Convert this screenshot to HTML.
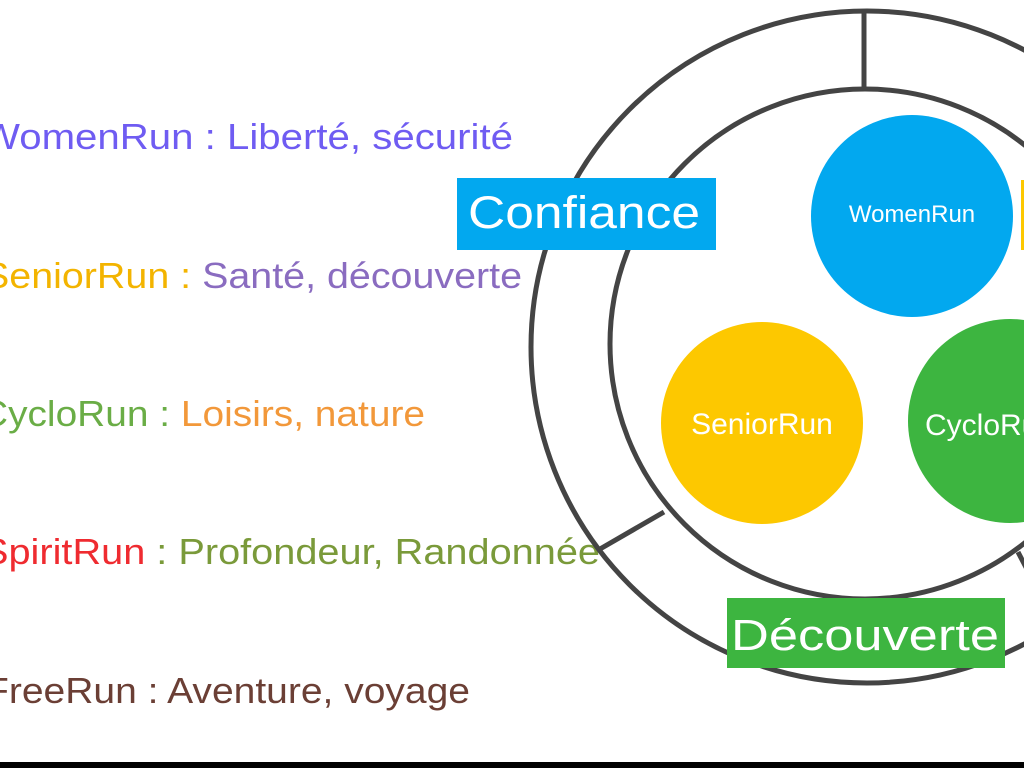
<!DOCTYPE html>
<html><head><meta charset="utf-8"><style>
html,body{margin:0;padding:0;background:#fff;width:1024px;height:768px;overflow:hidden}
svg{display:block}
</style></head><body>
<svg width="1024" height="768" viewBox="0 0 1024 768" xmlns="http://www.w3.org/2000/svg">
<rect width="1024" height="768" fill="#fff"/>
<g font-family="Liberation Sans, sans-serif" font-size="36">
<text x="-18" y="149" textLength="531" lengthAdjust="spacingAndGlyphs" fill="#6f5cf2">WomenRun : Liberté, sécurité</text>
<text x="-17" y="288" textLength="539" lengthAdjust="spacingAndGlyphs"><tspan fill="#f3b400">SeniorRun : </tspan><tspan fill="#8a6cc0">Santé, découverte</tspan></text>
<text x="-20" y="426" textLength="445" lengthAdjust="spacingAndGlyphs"><tspan fill="#6aad46">CycloRun : </tspan><tspan fill="#f2983a">Loisirs, nature</tspan></text>
<text x="-18" y="564" textLength="618" lengthAdjust="spacingAndGlyphs"><tspan fill="#ef2b30">SpiritRun</tspan><tspan fill="#7a9a3a"> : Profondeur, Randonnée</tspan></text>
<text x="-15" y="703" textLength="485" lengthAdjust="spacingAndGlyphs" fill="#6b3f35">FreeRun : Aventure, voyage</text>
</g>
<g fill="none" stroke="#444" stroke-width="5">
<circle cx="867" cy="347" r="336"/>
<circle cx="865" cy="344" r="255"/>
<line x1="864" y1="10" x2="864" y2="90"/>
<line x1="600" y1="549" x2="664" y2="512"/>
<line x1="1018" y1="552" x2="1030" y2="575"/>
</g>
<circle cx="912" cy="216" r="101" fill="#02a8ef"/>
<circle cx="762" cy="423" r="101" fill="#fdc800"/>
<circle cx="1010" cy="421" r="102" fill="#3db540"/>
<g font-family="Liberation Sans, sans-serif" fill="#fff">
<text x="912" y="222" font-size="24" text-anchor="middle">WomenRun</text>
<text x="762" y="434" font-size="30" text-anchor="middle">SeniorRun</text>
<text x="925" y="435" font-size="30">CycloRun</text>
</g>
<rect x="457" y="178" width="259" height="72" fill="#02a8ef"/>
<text x="468" y="228" font-family="Liberation Sans, sans-serif" font-size="45" fill="#fff" textLength="232" lengthAdjust="spacingAndGlyphs">Confiance</text>
<rect x="1021" y="180" width="10" height="70" fill="#fdc800"/>
<rect x="727" y="598" width="278" height="70" fill="#3db540"/>
<text x="731" y="650" font-family="Liberation Sans, sans-serif" font-size="44" fill="#fff" textLength="268" lengthAdjust="spacingAndGlyphs">Découverte</text>
<rect x="0" y="762" width="1024" height="6" fill="#000"/>
</svg>
</body></html>
